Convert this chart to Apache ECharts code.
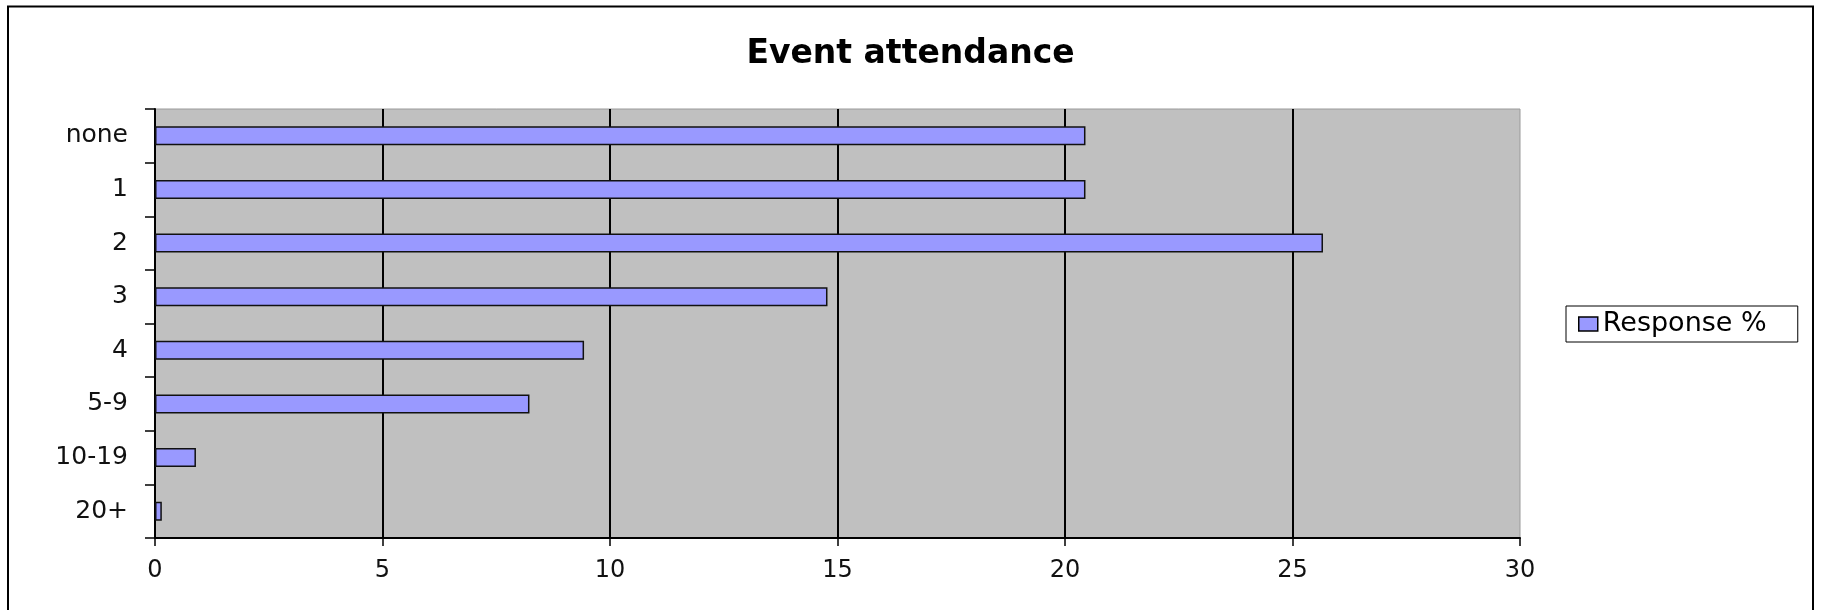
<!DOCTYPE html>
<html>
<head>
<meta charset="utf-8">
<script src="https://cdn.jsdelivr.net/npm/echarts@6/dist/echarts.min.js"></script>
<style>
  html, body { margin: 0; padding: 0; background: #fff; }
  #chart { width: 1821px; height: 610px; }
</style>
</head>
<body>
<div id="chart"></div>
<script>
const titleText = 'Event attendance';
const seriesName = 'Response %';
const categories = ['none', '1', '2', '3', '4', '5-9', '10-19', '20+'];
const responsePct = [20.45, 20.45, 25.67, 14.78, 9.43, 8.23, 0.9, 0.15];
const xMin = 0, xMax = 30, xStep = 5;

const font = 'DejaVu Sans';
const chart = echarts.init(document.getElementById('chart'), null, { renderer: 'canvas' });
chart.setOption({
  animation: false,
  backgroundColor: '#ffffff',
  graphic: [{
    type: 'rect',
    shape: { x: 8, y: 6.5, width: 1805, height: 800 },
    style: { fill: 'none', stroke: '#000', lineWidth: 2 },
    silent: true
  }],
  title: {
    text: titleText,
    left: 'center',
    top: 38,
    padding: 0,
    textStyle: { fontFamily: font, fontWeight: 'bold', fontSize: 33, color: '#000' }
  },
  legend: {
    data: [seriesName],
    left: 1566,
    top: 306,
    orient: 'vertical',
    padding: [4, 10, 4, 12],
    borderColor: '#000',
    borderWidth: 1,
    itemWidth: 19,
    itemHeight: 14,
    icon: 'rect',
    itemStyle: { color: '#9999FF', borderColor: '#000', borderWidth: 1.5 },
    textStyle: { fontFamily: font, fontSize: 27, color: '#000', lineHeight: 28, width: 185 }
  },
  grid: {
    left: 155, right: 301, top: 109, bottom: 72,
    show: true,
    backgroundColor: '#C0C0C0',
    borderColor: '#9a9a9a',
    borderWidth: 1
  },
  xAxis: {
    type: 'value',
    min: xMin, max: xMax, interval: xStep,
    axisLine: { show: true, lineStyle: { color: '#000', width: 2 } },
    axisTick: { show: true, length: 8, lineStyle: { color: '#000', width: 1.5 } },
    axisLabel: { margin: 21, fontFamily: font, fontSize: 24, color: '#111' },
    splitLine: { show: true, showMinLine: false, showMaxLine: false, lineStyle: { color: '#000', width: 2 } }
  },
  yAxis: {
    type: 'category',
    inverse: true,
    data: categories,
    axisLine: { show: true, lineStyle: { color: '#000', width: 2 } },
    axisTick: { show: true, length: 10, lineStyle: { color: '#000', width: 1.5 } },
    axisLabel: { margin: 27, fontFamily: font, fontSize: 25, color: '#111' },
    splitLine: { show: false }
  },
  series: [{
    name: seriesName,
    type: 'bar',
    data: responsePct,
    barWidth: 19,
    itemStyle: { color: '#9999FF', borderColor: '#111', borderWidth: 1.5 }
  }]
});
</script>
</body>
</html>
